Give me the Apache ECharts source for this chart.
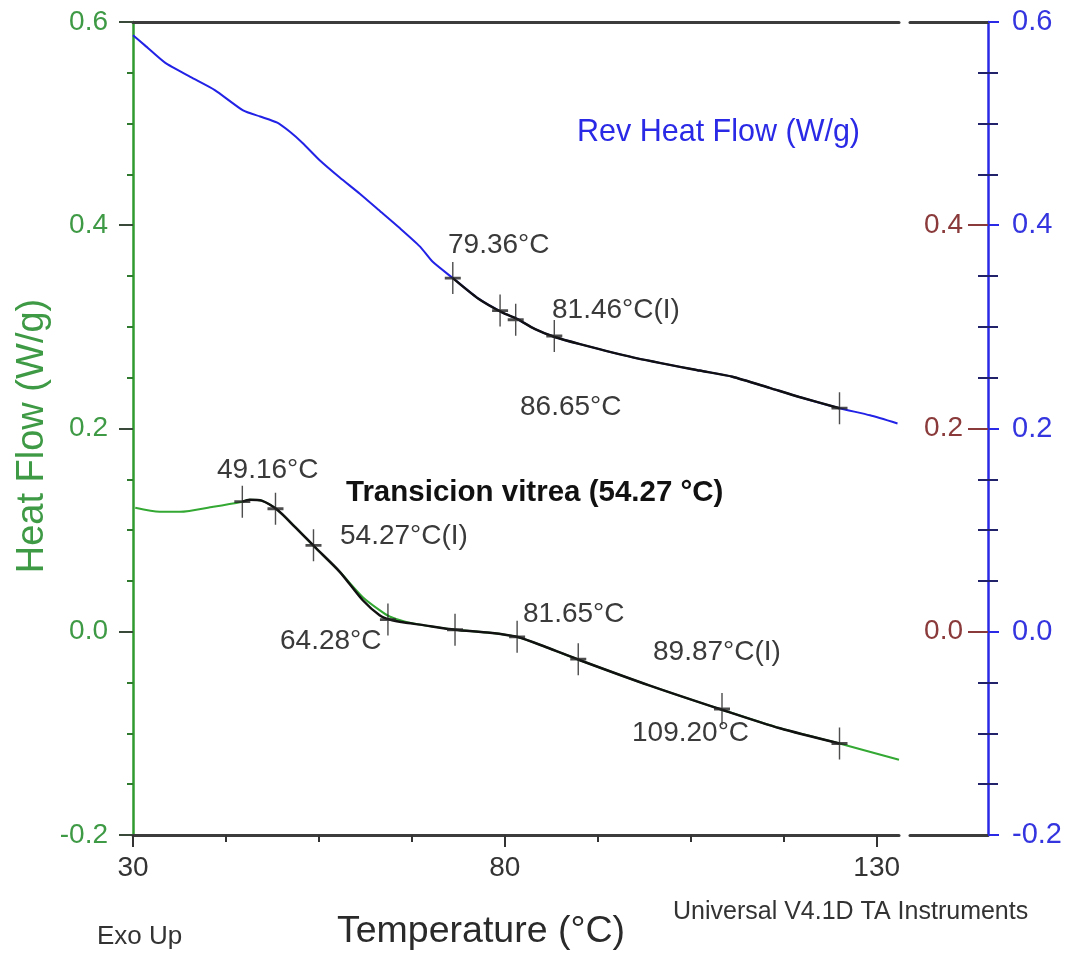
<!DOCTYPE html>
<html>
<head>
<meta charset="utf-8">
<script src="https://cdn.jsdelivr.net/npm/echarts@6/dist/echarts.min.js"></script>
<style>
html,body{margin:0;padding:0;background:#fff}
#main{width:1076px;height:953px}
</style>
</head>
<body>
<div id="main"></div>
<script>
// Rev Heat Flow curve (upper, blue)
var revTemp  = [30.0, 31.6, 34.3, 37.7, 41.0, 44.8, 47.1, 49.4, 51.1, 52.8, 55.1, 57.8, 60.5, 63.2, 65.9, 68.6, 70.3, 73.0, 76.4, 79.7, 81.6, 84.0, 86.7, 90.1, 97.2, 106.2, 110.6, 115.6, 119.6, 125.0, 129.1, 132.8];
var revValue = [0.587, 0.577, 0.560, 0.546, 0.533, 0.513, 0.507, 0.501, 0.492, 0.481, 0.464, 0.447, 0.431, 0.414, 0.397, 0.379, 0.364, 0.348, 0.328, 0.314, 0.308, 0.298, 0.290, 0.283, 0.270, 0.257, 0.251, 0.240, 0.231, 0.220, 0.213, 0.205];
// analysis overlay on rev heat flow (black)
var revFitTemp  = [73.0, 76.4, 79.7, 81.6, 84.0, 86.7, 90.1, 97.2, 106.2, 110.6, 115.6, 119.6, 125.0];
var revFitValue = [0.348, 0.328, 0.314, 0.308, 0.298, 0.290, 0.283, 0.270, 0.257, 0.251, 0.240, 0.231, 0.220];

// Heat Flow curve (lower, green)
var hfTemp  = [30.3, 33.6, 36.3, 40.8, 44.7, 45.7, 47.3, 49.4, 51.8, 54.5, 57.8, 60.9, 63.2, 64.5, 66.5, 68.6, 73.3, 78.0, 81.6, 85.5, 90.1, 99.5, 109.3, 117.0, 125.0, 133.0];
var hfValue = [0.122, 0.118, 0.118, 0.123, 0.128, 0.130, 0.129, 0.120, 0.103, 0.083, 0.059, 0.034, 0.021, 0.015, 0.010, 0.007, 0.002, -0.001, -0.005, -0.015, -0.028, -0.053, -0.077, -0.095, -0.110, -0.126];
// analysis overlay on heat flow (black)
var hfFitTemp  = [44.7, 45.7, 47.3, 49.4, 51.8, 54.5, 57.8, 60.9, 63.2, 64.5, 66.5, 68.6, 73.3, 78.0, 81.6, 85.5, 90.1, 99.5, 109.3, 117.0, 125.0];
var hfFitValue = [0.128, 0.130, 0.129, 0.120, 0.103, 0.083, 0.059, 0.031, 0.016, 0.012, 0.009, 0.007, 0.002, -0.001, -0.005, -0.015, -0.028, -0.053, -0.077, -0.095, -0.110];

// cross markers
var revMarkTemp  = [73.0, 79.36, 81.46, 86.65, 125.0];
var revMarkValue = [0.348, 0.316, 0.307, 0.291, 0.220];
var hfMarkTemp  = [44.7, 49.16, 54.27, 64.28, 73.3, 81.65, 89.87, 109.2, 125.0];
var hfMarkValue = [0.128, 0.121, 0.085, 0.012, 0.002, -0.005, -0.027, -0.076, -0.110];

// ticks
var xLabels = [30, 80, 130];
var xMinorTicks = [42.5, 55, 67.5, 92.5, 105, 117.5];
var rightInnerLabels = [0, 0.2, 0.4];

var FONT = '"Liberation Sans", Arial, sans-serif';

function pairs(xs, ys) {
    var out = [];
    for (var i = 0; i < xs.length; i++) out.push([xs[i], ys[i]]);
    return out;
}

function ann(text, x, y, size, color, bold) {
    return {
        type: 'text', x: x, y: y, z: 10,
        style: {
            text: text, fill: color, align: 'left', verticalAlign: 'middle',
            font: (bold ? 'bold ' : '') + size + 'px ' + FONT
        }
    };
}

var crossSymbol = 'path://M8,0L8,32M0,16L16,16';
var lineOnly = function (grid, pos, min, max) {
    return {
        gridIndex: grid, type: 'value', position: pos, min: min, max: max,
        axisLine: {onZero: false, lineStyle: {color: '#3c3c3c', width: 3}},
        axisTick: {show: false}, axisLabel: {show: false}, splitLine: {show: false}
    };
};

var myChart = echarts.init(document.getElementById('main'));
var option = {
    animation: false,
    backgroundColor: '#fff',
    grid: [
        {left: 133, right: 177, top: 22, bottom: 118},
        {left: 910, right: 88, top: 22, bottom: 118}
    ],
    xAxis: [
        {
            gridIndex: 0, type: 'value', position: 'bottom', min: 30, max: 133,
            axisLine: {onZero: false, lineStyle: {color: '#3c3c3c', width: 3}},
            axisTick: {customValues: xLabels, length: 12, lineStyle: {color: '#333', width: 2}},
            axisLabel: {customValues: xLabels, margin: 19, fontSize: 28, color: '#333', fontFamily: FONT},
            splitLine: {show: false}
        },
        {
            gridIndex: 0, type: 'value', position: 'bottom', min: 30, max: 133,
            axisLine: {show: false, onZero: false},
            axisTick: {customValues: xMinorTicks, length: 7, lineStyle: {color: '#333', width: 2}},
            axisLabel: {show: false}, splitLine: {show: false}
        },
        lineOnly(0, 'top', 30, 133),
        lineOnly(1, 'bottom', 0, 1),
        lineOnly(1, 'top', 0, 1)
    ],
    yAxis: [
        {
            gridIndex: 0, type: 'value', position: 'left', min: -0.2, max: 0.6, interval: 0.2,
            axisLine: {onZero: false, lineStyle: {color: '#2f9a2f', width: 2.5}},
            axisTick: {length: 14, lineStyle: {color: '#3a4a3a', width: 2}},
            minorTick: {show: true, splitNumber: 4, length: 6, lineStyle: {color: '#2f7a2f', width: 2}},
            axisLabel: {margin: 25, fontSize: 28, color: '#3f9a46', fontFamily: FONT,
                formatter: function (v) { return v.toFixed(1); }},
            splitLine: {show: false}
        },
        {
            gridIndex: 1, type: 'value', position: 'right', min: -0.2, max: 0.6, interval: 0.2,
            axisLine: {onZero: false, lineStyle: {color: '#2a2ae6', width: 2.5}},
            axisTick: {length: 11, lineStyle: {color: '#2a2ae6', width: 2}},
            minorTick: {show: true, splitNumber: 4, length: 10, lineStyle: {color: '#22226a', width: 2}},
            axisLabel: {margin: 24, fontSize: 29, color: '#3535e0', fontFamily: FONT,
                formatter: function (v) { return v.toFixed(1); }},
            splitLine: {show: false}
        },
        {
            gridIndex: 1, type: 'value', position: 'right', min: -0.2, max: 0.6, interval: 0.2,
            axisLine: {show: false, onZero: false},
            axisTick: {inside: true, customValues: rightInnerLabels, length: 20, lineStyle: {color: '#8a3a3a', width: 2}},
            minorTick: {show: true, splitNumber: 4, length: 10, lineStyle: {color: '#22226a', width: 2}},
            axisLabel: {inside: true, customValues: rightInnerLabels, margin: 25, fontSize: 28,
                color: '#8a3a3a', fontFamily: FONT,
                formatter: function (v) { return v.toFixed(1); }},
            splitLine: {show: false}
        }
    ],
    series: [
        {
            type: 'line', name: 'Rev Heat Flow', xAxisIndex: 0, yAxisIndex: 0,
            data: pairs(revTemp, revValue), symbol: 'none', smooth: 0.2,
            lineStyle: {color: '#2222e6', width: 2}, z: 2
        },
        {
            type: 'line', name: 'Rev fit', xAxisIndex: 0, yAxisIndex: 0,
            data: pairs(revFitTemp, revFitValue), symbol: 'none', smooth: 0.2,
            lineStyle: {color: '#111', width: 2.5}, z: 3
        },
        {
            type: 'line', name: 'Heat Flow', xAxisIndex: 0, yAxisIndex: 0,
            data: pairs(hfTemp, hfValue), symbol: 'none', smooth: 0.25,
            lineStyle: {color: '#33a833', width: 2}, z: 2
        },
        {
            type: 'line', name: 'Heat fit', xAxisIndex: 0, yAxisIndex: 0,
            data: pairs(hfFitTemp, hfFitValue), symbol: 'none', smooth: 0.25,
            lineStyle: {color: '#111', width: 2.5}, z: 3
        },
        {
            type: 'scatter', xAxisIndex: 0, yAxisIndex: 0,
            data: pairs(revMarkTemp, revMarkValue).concat(pairs(hfMarkTemp, hfMarkValue)),
            symbol: crossSymbol, symbolSize: [16, 32],
            itemStyle: {color: 'transparent', borderColor: '#222', borderWidth: 2},
            z: 4
        }
    ],
    graphic: [
        ann('Rev Heat Flow (W/g)', 577, 133, 30.5, '#2a2ae6', false),
        ann('79.36°C', 448, 245, 28, '#3a3a3a', false),
        ann('81.46°C(I)', 552, 310, 28, '#3a3a3a', false),
        ann('86.65°C', 520, 407, 28, '#3a3a3a', false),
        ann('49.16°C', 217, 470, 28, '#3a3a3a', false),
        ann('Transicion vitrea (54.27 °C)', 346, 493, 29.5, '#111', true),
        ann('54.27°C(I)', 340, 536, 28, '#3a3a3a', false),
        ann('64.28°C', 280, 641, 28, '#3a3a3a', false),
        ann('81.65°C', 523, 614, 28, '#3a3a3a', false),
        ann('89.87°C(I)', 653, 652, 28, '#3a3a3a', false),
        ann('109.20°C', 632, 733, 28, '#3a3a3a', false),
        {
            type: 'text', x: 33, y: 436, rotation: Math.PI / 2, z: 10,
            style: {text: 'Heat Flow (W/g)', fill: '#3f9a46', align: 'center', verticalAlign: 'middle',
                font: '38px ' + FONT}
        },
        ann('Temperature (°C)', 337, 932, 37.5, '#2a2a2a', false),
        ann('Exo Up', 97, 937, 26, '#333', false),
        ann('Universal V4.1D TA Instruments', 673, 912, 25, '#333', false)
    ]
};
myChart.setOption(option);
</script>
</body>
</html>
